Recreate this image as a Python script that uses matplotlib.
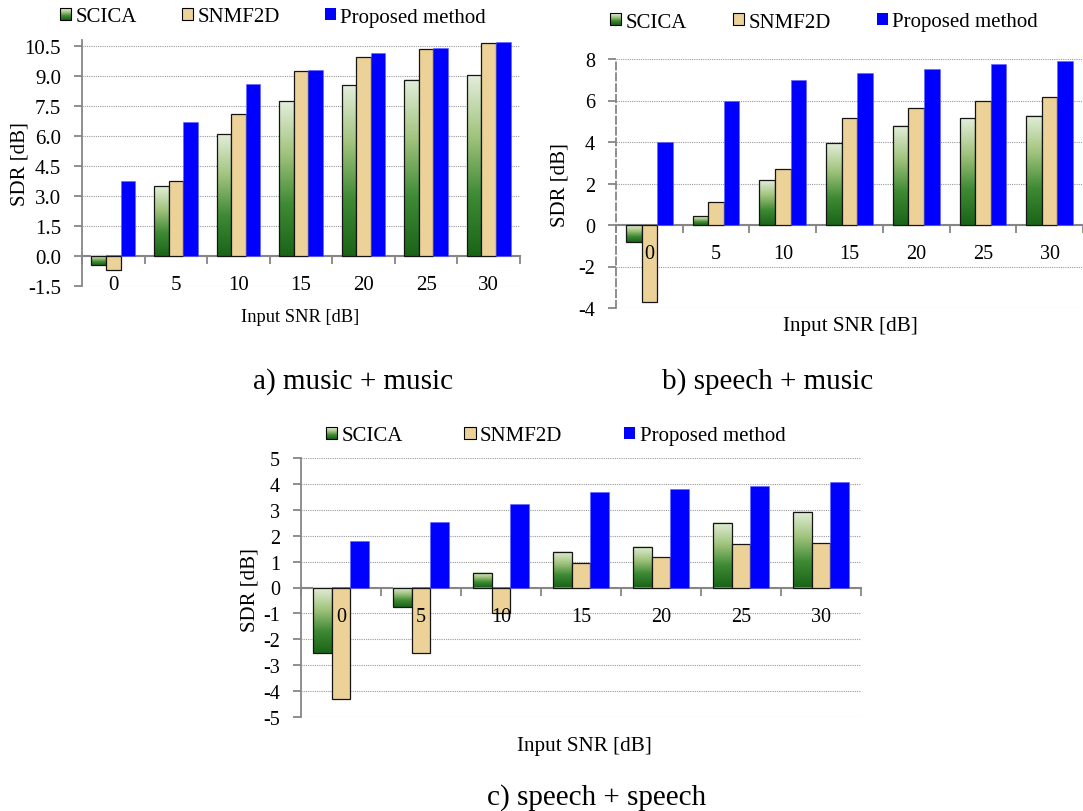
import numpy as np
import matplotlib
matplotlib.use("Agg")
import matplotlib.pyplot as plt
from matplotlib.colors import LinearSegmentedColormap
from matplotlib.patches import Rectangle, Patch
from matplotlib.legend_handler import HandlerBase

plt.rcParams['font.family'] = ['Liberation Serif', 'DejaVu Serif']

# data
snr = [0, 5, 10, 15, 20, 25, 30]
methods = ["SCICA", "SNMF2D", "Proposed method"]

music_scica = [-0.46, 3.48, 6.08, 7.73, 8.54, 8.81, 9.03]
music_snmf = [-0.71, 3.75, 7.11, 9.23, 9.95, 10.37, 10.64]
music_prop = [3.73, 6.72, 8.59, 9.28, 10.13, 10.39, 10.69]

sm_scica = [-0.80, 0.43, 2.16, 3.93, 4.78, 5.14, 5.27]
sm_snmf = [-3.69, 1.09, 2.70, 5.18, 5.64, 5.99, 6.18]
sm_prop = [3.98, 6.00, 6.97, 7.33, 7.54, 7.75, 7.91]

ss_scica = [-2.51, -0.77, 0.56, 1.38, 1.57, 2.49, 2.91]
ss_snmf = [-4.32, -2.52, -0.97, 0.96, 1.19, 1.68, 1.73]
ss_prop = [1.79, 2.52, 3.21, 3.69, 3.82, 3.93, 4.09]

W, H = 1083, 812
GREEN = LinearSegmentedColormap.from_list(
    "grn", ["#1a6418", "#3f8a34", "#a2c47e", "#e3eedb"])
TAN = "#ecd199"
BLUE = "#0000ff"
AXC = "#868686"


def px_rect(l, t, r, b):
    # pixel box -> figure fraction
    return [l / W, 1 - b / H, (r - l) / W, (b - t) / H]


class GradHandler(HandlerBase):
    def create_artists(self, legend, orig_handle, xdescent, ydescent,
                       width, height, fontsize, trans):
        arts = []
        n = 12
        for i in range(n):
            arts.append(Rectangle((-xdescent, -ydescent + height * i / n),
                                  width, height / n + 0.05,
                                  facecolor=GREEN(i / (n - 1)),
                                  edgecolor='none', transform=trans))
        arts.append(Rectangle((-xdescent, -ydescent), width, height,
                              facecolor='none', edgecolor='black',
                              lw=0.8, transform=trans))
        return arts


def panel(fig, box, scica, snmf, prop, ylim, yticks, yfmt, dashed,
          leg_xy, colsp, tick_fs):
    ax = fig.add_axes(box)
    x = np.arange(len(snr))
    w = 0.233
    grad = np.linspace(0, 1, 256).reshape(-1, 1)
    for xi, v in zip(x, scica):
        x0 = xi - 1.5 * w
        lo, hi = min(0, v), max(0, v)
        ax.imshow(grad, cmap=GREEN, origin='lower', aspect='auto',
                  extent=(x0, x0 + w, lo, hi), zorder=3)
    ax.bar(x - w, scica, w, facecolor='none', edgecolor='#151515',
           lw=0.9, zorder=3.2)
    ax.bar(x, snmf, w, color=TAN, edgecolor='#151515', lw=0.9, zorder=3.2)
    ax.bar(x + w, prop, w, color=BLUE, edgecolor='#6060ff', lw=0.4,
           zorder=3.2)

    ax.set_xlim(-0.5, 6.5)
    ax.set_ylim(*ylim)
    ax.set_yticks(yticks)
    ax.set_yticklabels([yfmt % t for t in yticks])
    ax.grid(axis='y', linestyle=(0, (1, 1)), color='#9a9a9a', lw=0.8)
    ax.set_axisbelow(True)

    for s in ['top', 'right']:
        ax.spines[s].set_visible(False)
    ax.spines['bottom'].set_position(('data', 0))
    ax.spines['bottom'].set_color(AXC)
    ax.spines['bottom'].set_linewidth(1.5)
    ax.spines['left'].set_color(AXC)
    ax.spines['left'].set_linewidth(1.3)
    if dashed:
        ax.spines['left'].set_linestyle((0, (4, 2)))

    # group boundaries get tick marks, centres get the labels
    ax.set_xticks(np.arange(-0.5, 7, 1))
    ax.set_xticklabels([])
    ax.set_xticks(x, minor=True)
    ax.set_xticklabels([str(s) for s in snr], minor=True)
    ax.tick_params(axis='x', which='major', direction='out', length=6,
                   width=1.3, color=AXC)
    ax.tick_params(axis='x', which='minor', length=0, pad=14,
                   labelsize=tick_fs)
    ax.tick_params(axis='y', direction='out', length=6, width=1.3,
                   color=AXC, pad=9, labelsize=tick_fs)
    # category labels sit on top of the negative bars
    ax.xaxis.set_zorder(5)

    handles = [Patch(), Patch(facecolor=TAN, edgecolor='black', lw=0.8),
               Patch(facecolor=BLUE, edgecolor='none')]
    fig.legend(handles, methods, handler_map={handles[0]: GradHandler()},
               loc='center left',
               bbox_to_anchor=(leg_xy[0] / W, 1 - leg_xy[1] / H),
               ncol=3, frameon=False, fontsize=15, handlelength=0.55,
               handleheight=0.55, handletextpad=0.2, columnspacing=colsp,
               borderpad=0, borderaxespad=0)
    return ax


fig = plt.figure(figsize=(W / 100, H / 100), dpi=100)

# a) music + music
panel(fig, px_rect(82, 41, 520, 287), music_scica, music_snmf, music_prop,
      (-1.5, 10.8), np.arange(-1.5, 10.6, 1.5), "%.1f", False,
      (60, 18), 2.15, 15)
fig.text(20 / W, 1 - 164 / H, "SDR [dB]", rotation=90, ha='center',
         va='center', fontsize=15)
fig.text(300 / W, 1 - 318 / H, "Input SNR [dB]", ha='center', va='center',
         fontsize=13.3)
fig.text(253 / W, 1 - 389 / H, "a) music + music", ha='left',
         va='baseline', fontsize=21)

# b) speech + music
panel(fig, px_rect(616, 60, 1083, 309), sm_scica, sm_snmf, sm_prop,
      (-4, 8), np.arange(-4, 8.1, 2), "%d", True,
      (610, 23), 2.2, 14.5)
fig.text(560 / W, 1 - 185 / H, "SDR [dB]", rotation=90, ha='center',
         va='center', fontsize=15)
fig.text(850 / W, 1 - 327 / H, "Input SNR [dB]", ha='center', va='center',
         fontsize=15.2)
fig.text(662 / W, 1 - 389 / H, "b) speech + music", ha='left',
         va='baseline', fontsize=21)

# c) speech + speech
panel(fig, px_rect(301, 459, 861, 718), ss_scica, ss_snmf, ss_prop,
      (-5, 5), np.arange(-5, 5.1, 1), "%d", False,
      (326, 437), 2.95, 14.5)
fig.text(250 / W, 1 - 590 / H, "SDR [dB]", rotation=90, ha='center',
         va='center', fontsize=15)
fig.text(584 / W, 1 - 747 / H, "Input SNR [dB]", ha='center', va='center',
         fontsize=15.2)
fig.text(487 / W, 1 - 805 / H, "c) speech + speech", ha='left',
         va='baseline', fontsize=21)

fig.savefig("out.png", dpi=100)
